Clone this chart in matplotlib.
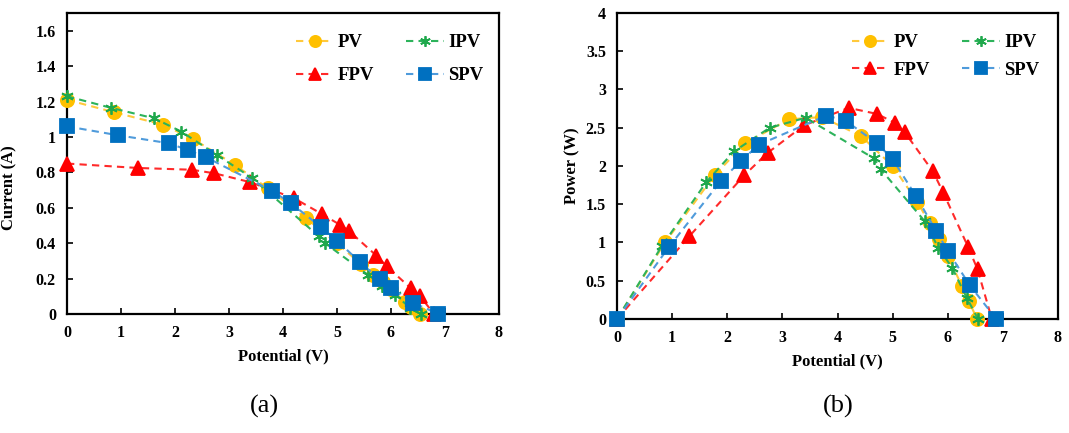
import matplotlib
matplotlib.use("Agg")
import matplotlib.pyplot as plt

# I-V and P-V readings for the four panel types
pv_v = [0, 0.87, 1.77, 2.33, 3.12, 3.72, 4.43, 5.0, 5.45, 5.67, 5.85, 6.0, 6.26, 6.38, 6.53]
pv_i = [1.21, 1.14, 1.07, 0.99, 0.84, 0.71, 0.54, 0.40, 0.28, 0.22, 0.18, 0.14, 0.07, 0.04, 0.0]
pv_p = [0, 1.0, 1.88, 2.30, 2.61, 2.64, 2.39, 2.0, 1.53, 1.25, 1.05, 0.82, 0.43, 0.24, 0.0]

ipv_v = [0, 0.81, 1.62, 2.12, 2.77, 3.42, 4.66, 4.78, 5.58, 5.83, 6.08, 6.35, 6.55]
ipv_i = [1.23, 1.165, 1.105, 1.03, 0.90, 0.77, 0.44, 0.40, 0.22, 0.16, 0.11, 0.035, 0.0]
ipv_p = [0, 0.95, 1.79, 2.19, 2.50, 2.63, 2.10, 1.96, 1.28, 0.93, 0.67, 0.27, 0.0]

fpv_v = [0, 1.31, 2.31, 2.73, 3.39, 4.20, 4.72, 5.05, 5.22, 5.73, 5.92, 6.37, 6.54, 6.80]
fpv_i = [0.85, 0.825, 0.815, 0.795, 0.745, 0.655, 0.565, 0.505, 0.47, 0.33, 0.27, 0.145, 0.10, 0.0]
fpv_p = [0, 1.08, 1.88, 2.17, 2.53, 2.76, 2.68, 2.56, 2.44, 1.93, 1.65, 0.94, 0.65, 0.0]

spv_v = [0, 0.94, 1.88, 2.25, 2.58, 3.80, 4.15, 4.71, 5.0, 5.42, 5.79, 6.0, 6.40, 6.88]
spv_i = [1.06, 1.01, 0.965, 0.925, 0.885, 0.695, 0.625, 0.49, 0.415, 0.295, 0.195, 0.148, 0.065, 0.0]
spv_p = [0, 0.94, 1.80, 2.07, 2.28, 2.66, 2.59, 2.30, 2.09, 1.61, 1.15, 0.89, 0.44, 0.0]

labels = ["PV", "FPV", "IPV", "SPV"]

plt.rcParams['font.family'] = ['Liberation Serif', 'DejaVu Serif']

# series styles: (line color, marker, marker color, marker size)
styles = {
    "PV": ("#FFC93C", "o", "#FFC000", 9.5),
    "IPV": ("#2DB35B", (6, 2, 0), "#1FA84C", 9),
    "FPV": ("#FF2A2A", "^", "#FF0000", 9.5),
    "SPV": ("#4F9BDB", "s", "#0070C0", 10),
}

fig = plt.figure(figsize=(10.69, 4.33), dpi=100)
ax1 = fig.add_axes([0.0627, 0.2748, 0.404, 0.695])
ax2 = fig.add_axes([0.5772, 0.2633, 0.4125, 0.7067])


def draw(ax, data, legx, lspace):
    for name in labels:
        x, y = data[name]
        lc, mk, mc, ms = styles[name]
        ax.plot(x, y, linestyle=(0, (3.5, 2.5)), color=lc, linewidth=1.5,
                marker=mk, markersize=ms, markerfacecolor=mc,
                markeredgecolor=mc, markeredgewidth=1.3, label=name,
                clip_on=False, zorder=3)
    for s in ax.spines.values():
        s.set_linewidth(1.6)
    ax.tick_params(direction='in', length=4, width=1.2, labelsize=11.5, pad=8)
    for t in ax.get_xticklabels() + ax.get_yticklabels():
        t.set_fontweight('bold')
    ax.set_xlim(0, 8)
    ax.set_xticks(range(0, 9))
    ax.set_xlabel("Potential (V)", fontsize=12, fontweight='bold', labelpad=5)
    leg = ax.legend(loc='upper right', ncol=2, frameon=False,
                    prop={'weight': 'bold', 'size': 13.5}, handlelength=2.0,
                    columnspacing=1.7, labelspacing=lspace, handletextpad=0.25,
                    markerscale=0.85, borderaxespad=0.0,
                    bbox_to_anchor=(legx, 0.955))
    leg.set_zorder(5)


draw(ax1, {"PV": (pv_v, pv_i), "IPV": (ipv_v, ipv_i),
           "FPV": (fpv_v, fpv_i), "SPV": (spv_v, spv_i)}, 0.982, 0.85)
ax1.set_ylim(0, 1.7)
ax1.set_yticks([0, 0.2, 0.4, 0.6, 0.8, 1.0, 1.2, 1.4, 1.6])
ax1.set_yticklabels(["0", "0.2", "0.4", "0.6", "0.8", "1", "1.2", "1.4", "1.6"],
                    fontweight='bold')
ax1.set_ylabel("Current (A)", fontsize=12, fontweight='bold')
ax1.yaxis.set_label_coords(-0.115, 0.42)

draw(ax2, {"PV": (pv_v, pv_p), "IPV": (ipv_v, ipv_p),
           "FPV": (fpv_v, fpv_p), "SPV": (spv_v, spv_p)}, 0.975, 0.55)
ax2.set_ylim(0, 4)
ax2.set_yticks([0, 0.5, 1, 1.5, 2, 2.5, 3, 3.5, 4])
ax2.set_yticklabels(["0", "0.5", "1", "1.5", "2", "2.5", "3", "3.5", "4"],
                    fontweight='bold')
ax2.set_ylabel("Power (W)", fontsize=12, fontweight='bold', labelpad=4)

fig.text(0.247, 0.048, "(a)", fontsize=19, ha='center')
fig.text(0.784, 0.048, "(b)", fontsize=19, ha='center')

fig.savefig("out.png", dpi=100)
